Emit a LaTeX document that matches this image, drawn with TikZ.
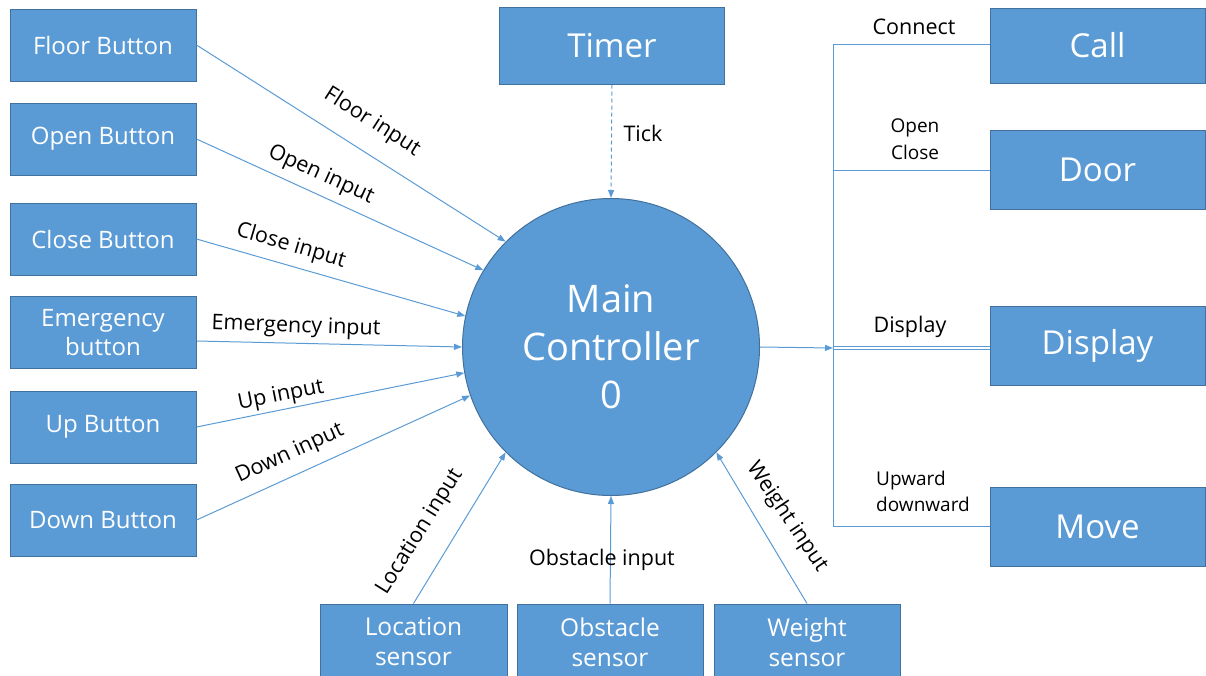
\documentclass[tikz,border=0pt]{standalone}
\usepackage{fontspec}
\setmainfont{Open Sans}
\usetikzlibrary{arrows.meta}
\definecolor{boxblue}{HTML}{5B9BD5}
\definecolor{boxedge}{HTML}{41719C}
\definecolor{wire}{HTML}{5B9BD5}
\begin{document}
\begin{tikzpicture}[x=1pt,y=-1pt,
  box/.style={draw=boxedge, line width=1pt, fill=boxblue, text=white, inner sep=0pt,
    align=center, rectangle},
  sidebox/.style={box, minimum width=186pt, minimum height=72pt, font=\fontsize{24}{29}\selectfont},
  bigbox/.style={box, font=\fontsize{33}{38}\selectfont},
  sensorbox/.style={box, minimum width=187pt, minimum height=76pt, font=\fontsize{24.5}{30}\selectfont},
  wire/.style={draw=wire, line width=1pt},
  flow/.style={wire, -{Triangle[length=8pt,width=6pt]}},
  lbl/.style={font=\fontsize{21.5}{27}\selectfont, text=black, inner sep=0pt, align=center},
]
\useasboundingbox (0,0) rectangle (1206,675);
\clip (0,0) rectangle (1206,675);

% central process
\node[circle, draw=boxedge, line width=1pt, fill=boxblue, text=white, minimum size=297pt,
      inner sep=0pt, align=center, font=\fontsize{38}{48}\selectfont] (main) at (611,347)
      {Main\\Controller\\0};

% input devices on the left
\node[sidebox] (floor) at (103,45)    {Floor Button};
\node[sidebox] (open)  at (103,139)   {Open Button};
\node[sidebox] (close) at (103,239)   {Close Button};
\node[sidebox] (emerg) at (103,332.5) {Emergency\\button};
\node[sidebox] (up)    at (103,427)   {Up Button};
\node[sidebox] (down)  at (103,520)   {Down Button};

% timer
\node[bigbox, minimum width=225pt, minimum height=77pt] (timer) at (612,45.5) {Timer};

% outputs on the right
\node[bigbox, minimum width=215pt, minimum height=75pt] (call)    at (1097.5,45.5)  {Call};
\node[bigbox, minimum width=215pt, minimum height=79pt] (door)    at (1097.5,169.5) {Door};
\node[bigbox, minimum width=215pt, minimum height=79pt] (display) at (1097.5,345.5) {Display};
\node[bigbox, minimum width=215pt, minimum height=79pt] (move)    at (1097.5,526.5) {Move};

% sensors at the bottom
\node[sensorbox] (loc)    at (413.5,642) {Location\\sensor};
\node[sensorbox, minimum width=186pt] (obst)   at (610,642)   {Obstacle\\sensor};
\node[sensorbox, minimum width=186pt] (weight) at (807,642)   {Weight\\sensor};

% left inputs
\draw[flow] (floor.east) -- (main.135);
\draw[flow] (open.east)  -- (main.149);
\draw[flow] (close.east) -- (main.168.8);
\draw[flow] (197,341) -- (main.180);
\draw[flow] (up.east)    -- (main.190);
\draw[flow] (down.east)  -- (main.199);

\node[lbl, rotate=-32.6] (lfloor) at (372,122) {Floor input};
\node[lbl, rotate=-24.5] (lopen)  at (321,175) {Open input};
\node[lbl, rotate=-16.4] (lclose) at (291,246) {Close input};
\node[lbl, rotate=-2]    (lemerg) at (296,327) {Emergency input};
\node[lbl, rotate=11.3]  (lup)    at (281,396) {Up input};
\node[lbl, rotate=24.5]  (ldown)  at (290,454) {Down input};

% timer tick
\draw[flow, dashed, dash pattern=on 4pt off 3pt] (timer.south) -- (main.north);
\node[lbl] (ltick) at (643,133) {Tick};

% sensor inputs
\draw[flow] (loc.north)    -- (main.225);
\draw[flow] (obst.north)   -- (main.south);
\draw[flow] (weight.north) -- (main.315);
\node[lbl, rotate=58]  (lloc)    at (420,532) {Location input};
\node[lbl]             (lobst)   at (602,560) {Obstacle input};
\node[lbl, rotate=-56] (lweight) at (787,517) {Weight input};

% output bus
\coordinate (busTop) at (833,44);
\coordinate (busDoor) at (833,170);
\coordinate (busMid) at (833,348);
\coordinate (busBot) at (833,526);
\draw[flow] (main.east) -- (busMid);
\draw[wire] (busTop) -- (busBot);
\draw[wire] (busTop) -- (busTop -| call.west);
\draw[wire] (busDoor) -- (busDoor -| door.west);
\draw[wire] (833,346) -- (display.west |- 0,346);
\draw[wire] (833,349) -- (display.west |- 0,349);
\draw[wire] (busBot) -- (busBot -| move.west);

\node[lbl] (lconnect) at (914,27) {Connect};
\node[lbl, font=\fontsize{19}{27}\selectfont] (lopenclose) at (915,139.5) {Open\\Close};
\node[lbl] (ldisplay) at (910,327) {Display};
\node[lbl, align=left, font=\fontsize{19}{26}\selectfont] (lmove) at (923,491) {Upward\\downward};
\end{tikzpicture}
\end{document}
